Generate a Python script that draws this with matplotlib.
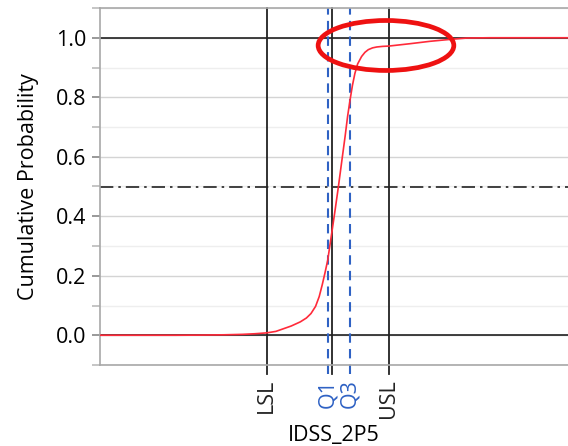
import numpy as np
import matplotlib.pyplot as plt
from matplotlib.patches import Ellipse

plt.rcParams['font.family'] = ['Open Sans', 'DejaVu Sans']

# cumulative probability curve
idss = [-0.47, 1.0, 2.0, 2.8, 3.6, 4.2, 4.6, 5.0, 5.3, 5.55, 5.8, 6.1, 6.3, 6.45, 6.6, 6.72, 6.82, 6.91,
        7.0, 7.13, 7.24, 7.35, 7.46, 7.57, 7.65, 7.73, 7.81, 7.89, 7.98, 8.11, 8.22, 8.33,
        8.47, 8.61, 8.8, 9.0, 9.35, 9.7, 10.35, 11.07, 11.56, 12.3, 14.9]
cum_prob = [0.0, 0.0, 0.0, 0.0005, 0.0015, 0.003, 0.005, 0.008, 0.013, 0.022, 0.031, 0.045,
            0.058, 0.073, 0.097, 0.13, 0.17, 0.21, 0.253, 0.343, 0.42, 0.5, 0.585, 0.669, 0.735,
            0.79, 0.84, 0.88, 0.912, 0.937, 0.951, 0.96, 0.966, 0.969, 0.971, 0.972, 0.976,
            0.98, 0.988, 0.995, 0.999, 1.0, 1.0]

ref_names = ['LSL', 'Q1', '', 'Q3', 'USL']
ref_values = [5.0, 7.0, 7.14, 7.72, 9.0]
ref_colors = ['#222222', '#2f62c4', '#222222', '#2f62c4', '#222222']

y_ticks = [0.0, 0.2, 0.4, 0.6, 0.8, 1.0]

fig = plt.figure(figsize=(5.68, 4.46), dpi=100)
ax = fig.add_axes([100 / 568, 1 - 365 / 446, 468 / 568, 357 / 446])
ax.set_xlim(-0.47, 14.88)
ax.set_ylim(-0.1, 1.1)

# grid
ax.set_yticks(y_ticks)
ax.set_yticks(np.arange(-0.1, 1.11, 0.2), minor=True)
ax.grid(True, axis='y', which='major', color='#d4d4d4', lw=1.0)
ax.grid(True, axis='y', which='minor', color='#eeeeee', lw=1.0)
ax.set_axisbelow(True)

ax.spines['right'].set_visible(False)
for sp in ['left', 'bottom', 'top']:
    ax.spines[sp].set_color('#a8a8a8')
    ax.spines[sp].set_linewidth(1.2)

ax.tick_params(axis='y', which='major', length=6, width=1.2, color='#888888', labelsize=15.5, pad=4)
ax.tick_params(axis='y', which='minor', length=6, width=1.2, color='#bbbbbb')

# reference lines
ax.axhline(1.0, color='#222222', lw=1.2)
ax.axhline(0.0, color='#222222', lw=1.2)
ax.axhline(0.5, color='#222222', lw=1.2, ls=(0, (8, 3, 1.5, 3)))

for name, val, col in zip(ref_names, ref_values, ref_colors):
    if name in ('Q1', 'Q3'):
        ax.axvline(val, ymin=-0.025, ymax=1, color=col, lw=1.5, ls=(0, (4.5, 3)), clip_on=False)
    else:
        ax.axvline(val, ymin=-0.025, ymax=1, color=col, lw=1.3, clip_on=False)

ax.set_xticks(ref_values)
ax.set_xticklabels(ref_names, rotation=90, fontsize=15.5)
ax.tick_params(axis='x', length=0, pad=10)
for lab, col in zip(ax.get_xticklabels(), ref_colors):
    lab.set_color(col)

ax.plot(idss, cum_prob, color='#ff2a3a', lw=1.2, zorder=5)

# highlight ellipse
ax.add_patch(Ellipse((8.91, 0.974), 4.45, 0.168, fill=False, ec='#ee1111', lw=3.4, zorder=6))

ax.set_ylabel('Cumulative Probability', fontsize=15.5, labelpad=12)
ax.set_xlabel('IDSS_2P5', fontsize=15.5, labelpad=5)

fig.savefig('out.png', dpi=100)
